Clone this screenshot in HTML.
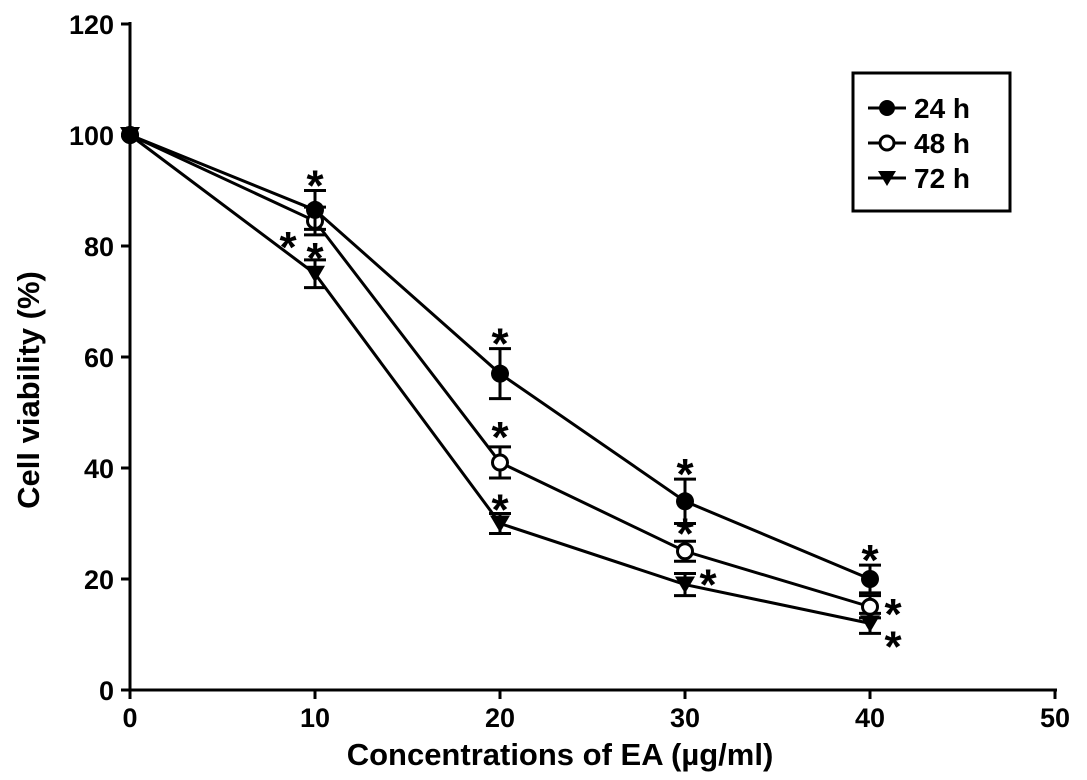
<!DOCTYPE html>
<html><head><meta charset="utf-8"><style>
body{margin:0;background:#fff;}
svg{display:block;font-family:"Liberation Sans",Arial,sans-serif;font-weight:bold;}
</style></head><body>
<svg id="chart" width="1087" height="780" viewBox="0 0 1087 780">
<g id="axes"></g>
<g id="series"></g>
<text x="560" y="765" font-size="31" text-anchor="middle">Concentrations of EA (µg/ml)</text>
<text transform="translate(39,390) rotate(-90)" font-size="31" text-anchor="middle">Cell viability (%)</text>
<g>
<rect x="853" y="73" width="157" height="138" fill="#fff" stroke="#000" stroke-width="3"/>
<g><line x1="868" y1="108" x2="906" y2="108" stroke="#000" stroke-width="3"/><circle cx="887" cy="108" r="8" fill="#000"/><text x="914" y="118" font-size="28">24 h</text></g>
<g><line x1="868" y1="143" x2="906" y2="143" stroke="#000" stroke-width="3"/><circle cx="887" cy="143" r="7" fill="#fff" stroke="#000" stroke-width="3"/><text x="914" y="153" font-size="28">48 h</text></g>
<g><line x1="868" y1="178" x2="906" y2="178" stroke="#000" stroke-width="3"/><path d="M878,171 L896,171 L887,186 Z" fill="#000"/><text x="914" y="188" font-size="28">72 h</text></g>
</g>
</svg>
<script>
const categories=[0,10,20,30,40];
const xTicks=[0,10,20,30,40,50];
const yTicks=[0,20,40,60,80,100,120];
const v24=[100,86.5,57,34,20];
const e24=[0,3.5,4.5,4,2.5];
const v48=[100,84.5,41,25,15];
const e48=[0,2.5,2.8,1.8,2];
const v72=[100,75,30,19,12];
const e72=[0,2.5,1.8,2,1.8];
const sig24=[false,true,true,true,true];
const sig48=[false,true,true,true,true];
const sig72=[false,true,true,true,true];
const NS='http://www.w3.org/2000/svg';
const X=v=>130+18.5*v, Y=v=>690-5.55*v;
function mk(t,a,p){const e=document.createElementNS(NS,t);for(const k in a)e.setAttribute(k,a[k]);p.appendChild(e);return e;}
const ax=document.getElementById('axes'), sg=document.getElementById('series');
let l=mk('line',{x1:X(0),y1:Y(0),x2:X(50)+2,y2:Y(0),stroke:'#000','stroke-width':3},ax);


l=mk('line',{x1:X(0),y1:Y(0),x2:X(0),y2:Y(120)-2,stroke:'#000','stroke-width':3},ax);


xTicks.forEach(t=>{mk('line',{x1:X(t),y1:Y(0),x2:X(t),y2:Y(0)+9,stroke:'#000','stroke-width':3},ax);
const tx=mk('text',{x:X(t),y:Y(0)+37,'font-size':27,'text-anchor':'middle'},ax);tx.textContent=t;

});
yTicks.forEach(t=>{mk('line',{x1:X(0)-9,y1:Y(t),x2:X(0),y2:Y(t),stroke:'#000','stroke-width':3},ax);
const tx=mk('text',{x:X(0)-16,y:Y(t)+10,'font-size':27,'text-anchor':'end'},ax);tx.textContent=t;

});
const starOff={'24':[[0,-15,'t'],[0,-15,'t'],[0,-15,'t'],[0,-15,'t']],
'48':[[-27,16,'p'],[0,-20,'t'],[0,-18,'t'],[23,-3,'p']],
'72':[[0,-12,'t'],[0,-14,'t'],[23,-10,'p'],[23,13,'p']]};
function series(name,vals,errs,sig,marker){
  const g=mk('g',{},sg);
  
  
  mk('polyline',{points:categories.map((c,i)=>X(c)+','+Y(vals[i])).join(' '),fill:'none',stroke:'#000','stroke-width':3},g);
  categories.forEach((c,i)=>{
    const x=X(c),y=Y(vals[i]),t=Y(vals[i]+errs[i]),b=Y(vals[i]-errs[i]);
    if(errs[i]>0){mk('line',{x1:x,y1:t,x2:x,y2:b,stroke:'#000','stroke-width':3},g);
      mk('line',{x1:x-11,y1:t,x2:x+11,y2:t,stroke:'#000','stroke-width':3},g);
      mk('line',{x1:x-11,y1:b,x2:x+11,y2:b,stroke:'#000','stroke-width':3},g);}
    let m;
    if(marker==='filled')m=mk('circle',{cx:x,cy:y,r:9,fill:'#000'},g);
    else if(marker==='open')m=mk('circle',{cx:x,cy:y,r:7.5,fill:'#fff',stroke:'#000','stroke-width':3},g);
    else m=mk('path',{d:`M${x-10},${y-8} L${x+10},${y-8} L${x},${y+9} Z`,fill:'#000'},g);
    
    
    if(sig[i]&&i>0){const o=starOff[name][i-1];
      const cy=(o[2]==='t'?t:y)+o[1];
      const s=mk('text',{x:x+o[0],y:cy+25,'font-size':44,'text-anchor':'middle'},g);s.textContent='*';
      
      }
  });
}
series('72',v72,e72,sig72,'tri');
series('48',v48,e48,sig48,'open');
series('24',v24,e24,sig24,'filled');
</script>
</body></html>
